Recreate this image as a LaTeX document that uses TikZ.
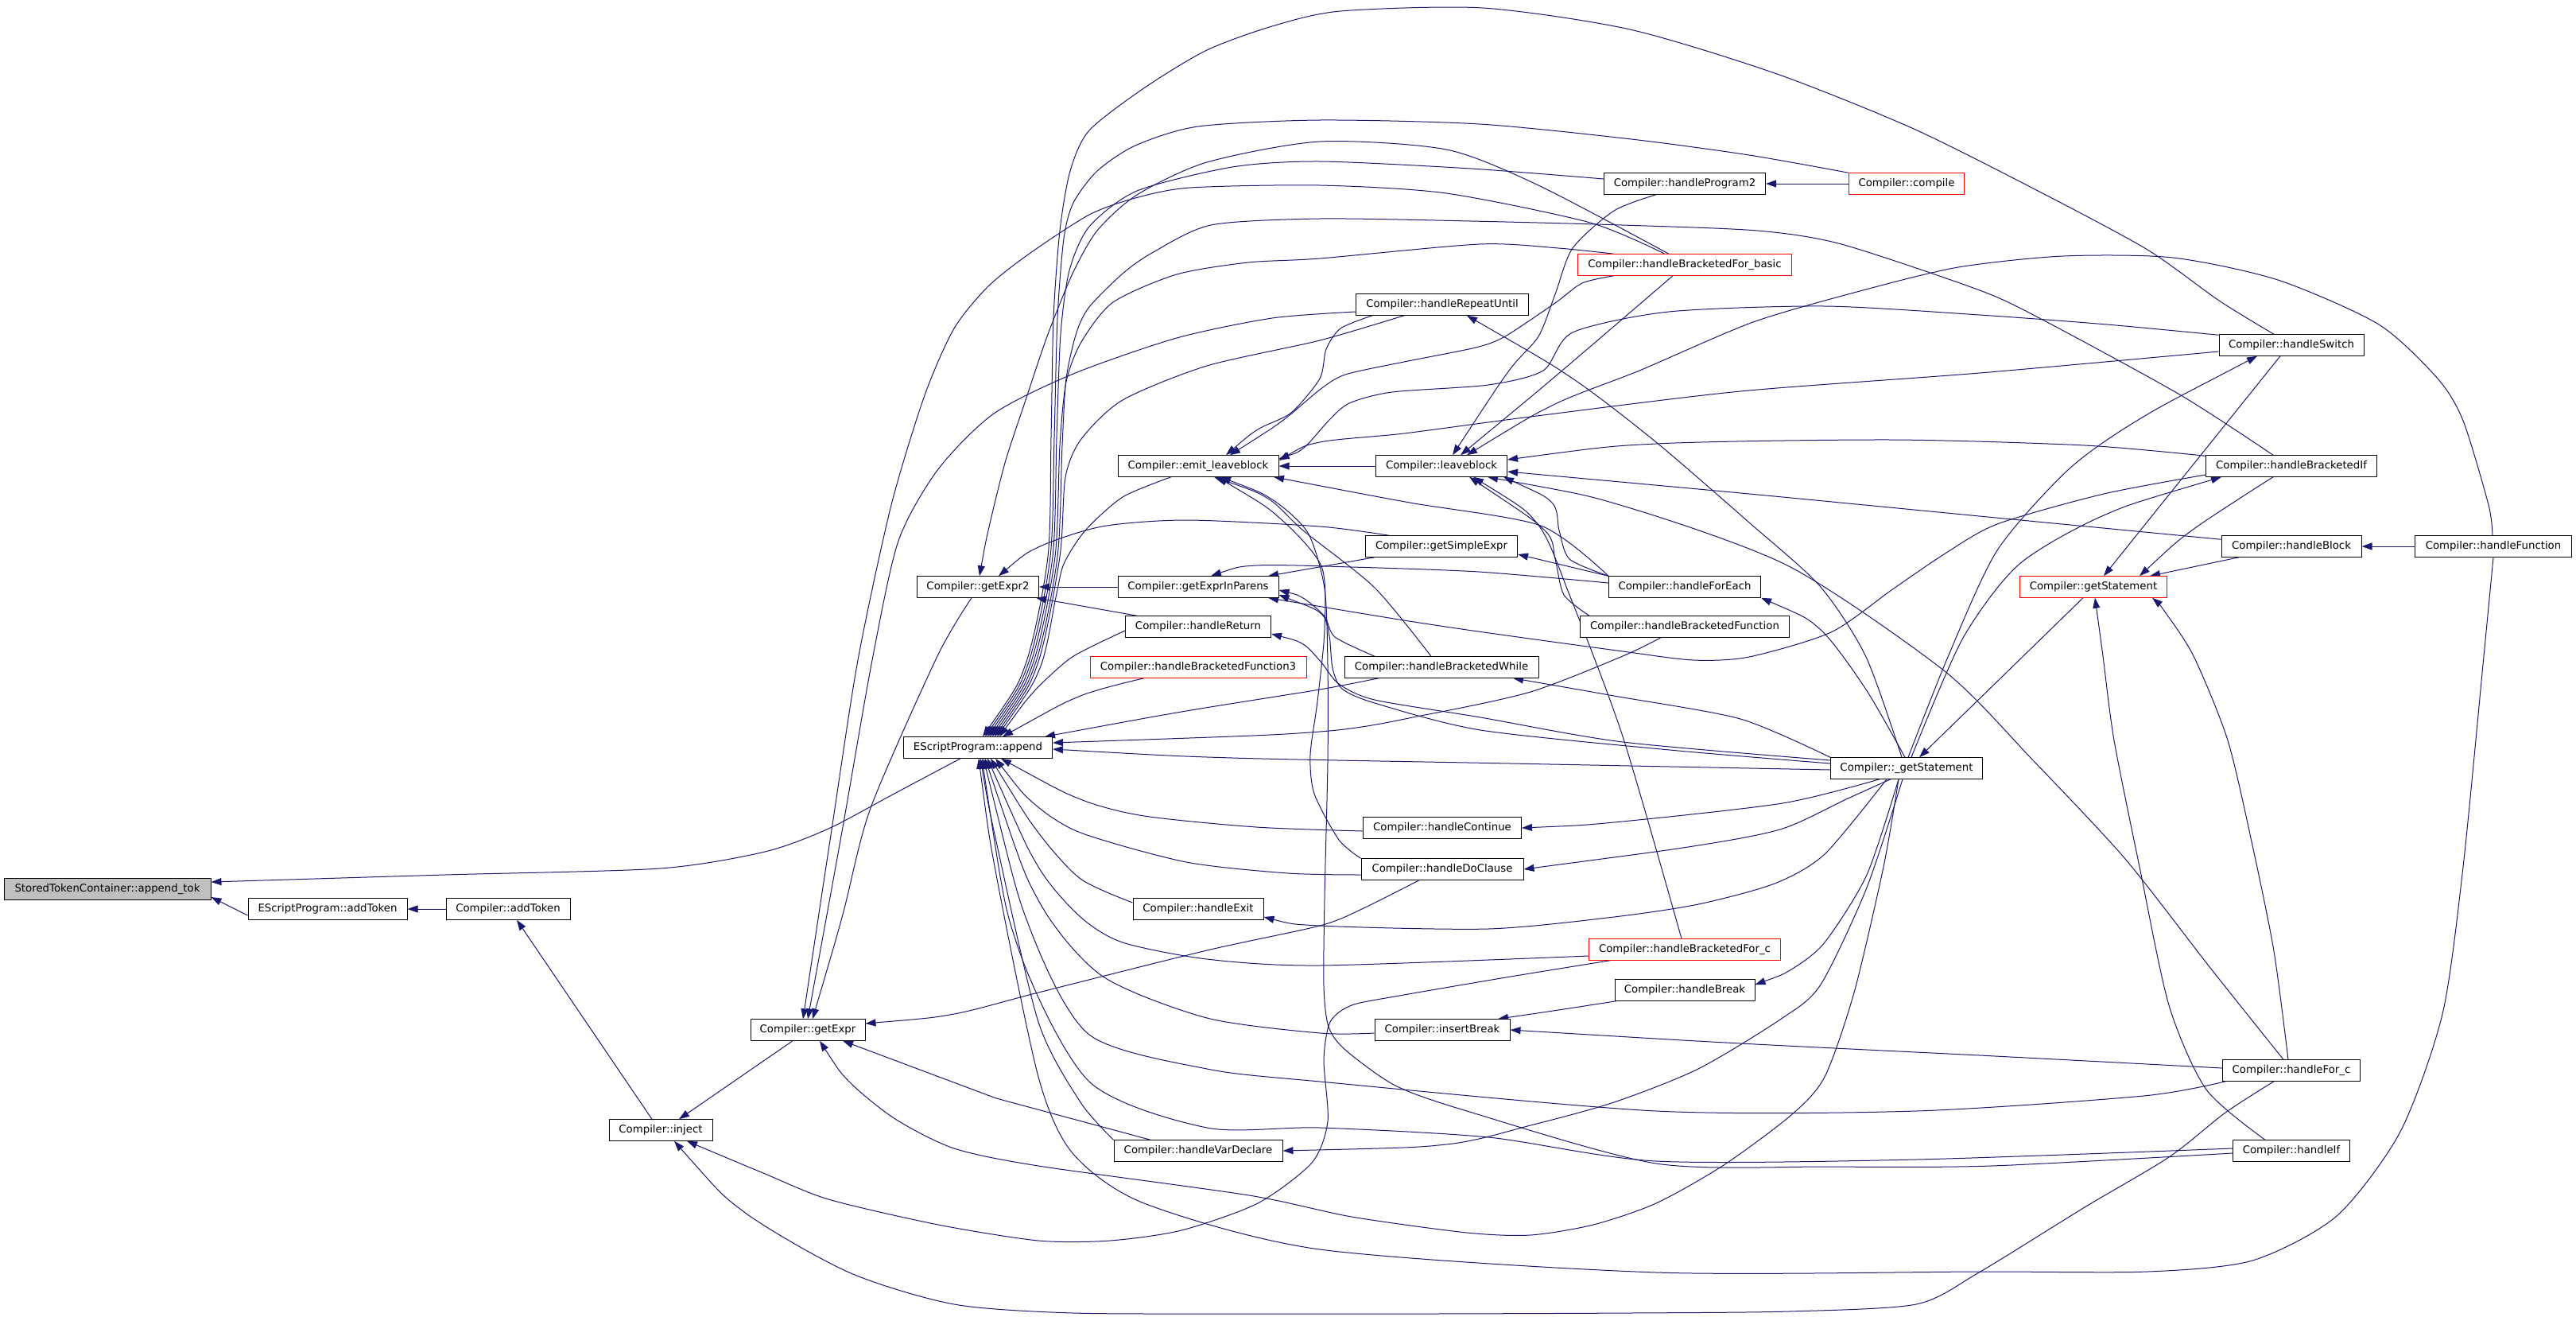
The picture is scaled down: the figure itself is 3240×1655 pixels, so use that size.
\documentclass[tikz,border=0pt]{standalone}
\usepackage{fontspec}
\setmainfont{DejaVu Sans}
\usetikzlibrary{arrows.meta,backgrounds}
\definecolor{edgec}{HTML}{191970}
\definecolor{tokgray}{HTML}{BFBFBF}
\tikzset{
  fn/.style={draw=black, line width=1pt, fill=white, minimum height=26.5pt, inner sep=0pt, font=\fontsize{13.3}{15}\selectfont},
  fnred/.style={fn, draw=red},
  e/.style={draw=edgec, line width=1pt, <-, >={Triangle[length=13pt,width=9pt]}},
}
\newcommand\conn[1]{\draw[e] plot[smooth,tension=0.45] coordinates {#1};}
\begin{document}
\begin{tikzpicture}[x=1pt,y=-1pt]
\useasboundingbox (0,0) rectangle (3240,1655);
\node[fn,fill=tokgray,minimum width=260pt] (tok) at (135,1118) {StoredTokenContainer::append\_tok};
\node[fn,minimum width=200pt] (esadd) at (412,1143) {EScriptProgram::addToken};
\node[fn,minimum width=156pt] (cadd) at (639,1143) {Compiler::addToken};
\node[fn,minimum width=130pt] (inject) at (831,1421) {Compiler::inject};
\node[fn,minimum width=144pt] (getexpr) at (1016,1295) {Compiler::getExpr};
\node[fn,minimum width=187pt] (esappend) at (1230,940) {EScriptProgram::append};
\node[fn,minimum width=153pt] (getexpr2) at (1230,738) {Compiler::getExpr2};
\node[fn,minimum width=202pt] (emit) at (1507,586) {Compiler::emit\_leaveblock};
\node[fn,minimum width=202pt] (gip) at (1507,738) {Compiler::getExprInParens};
\node[fn,minimum width=183pt] (hret) at (1507,788) {Compiler::handleReturn};
\node[fnred,minimum width=272pt] (hbf3) at (1507,839) {Compiler::handleBracketedFunction3};
\node[fn,minimum width=164pt] (hexit) at (1507,1143) {Compiler::handleExit};
\node[fn,minimum width=212pt] (hvar) at (1507,1447) {Compiler::handleVarDeclare};
\node[fn,minimum width=217pt] (hrep) at (1814,383) {Compiler::handleRepeatUntil};
\node[fn,minimum width=165pt] (leave) at (1813,586) {Compiler::leaveblock};
\node[fn,minimum width=191pt] (gse) at (1813,687) {Compiler::getSimpleExpr};
\node[fn,minimum width=244pt] (hbw) at (1813,839) {Compiler::handleBracketedWhile};
\node[fn,minimum width=199pt] (hcont) at (1814,1041) {Compiler::handleContinue};
\node[fn,minimum width=204pt] (hdo) at (1814,1093) {Compiler::handleDoClause};
\node[fn,minimum width=170pt] (ibreak) at (1814,1295) {Compiler::insertBreak};
\node[fn,minimum width=203pt] (hprog2) at (2119,231) {Compiler::handleProgram2};
\node[fnred,minimum width=145pt] (compile) at (2398,231) {Compiler::compile};
\node[fnred,minimum width=269pt] (hbfb) at (2119,333) {Compiler::handleBracketedFor\_basic};
\node[fn,minimum width=191pt] (hfe) at (2119,738) {Compiler::handleForEach};
\node[fn,minimum width=263pt] (hbfn) at (2119,788) {Compiler::handleBracketedFunction};
\node[fnred,minimum width=241pt] (hbfc) at (2119,1194) {Compiler::handleBracketedFor\_c};
\node[fn,minimum width=176pt] (hbreak) at (2119,1245) {Compiler::handleBreak};
\node[fn,minimum width=191pt] (gstmtu) at (2398,966) {Compiler::\_getStatement};
\node[fn,minimum width=182pt] (hsw) at (2882,434) {Compiler::handleSwitch};
\node[fn,minimum width=215pt] (hbif) at (2882,586) {Compiler::handleBracketedIf};
\node[fnred,minimum width=185pt] (gstmt) at (2633,738) {Compiler::getStatement};
\node[fn,minimum width=176pt] (hblock) at (2882,687) {Compiler::handleBlock};
\node[fn,minimum width=197pt] (hfunc) at (3136,687) {Compiler::handleFunction};
\node[fn,minimum width=173pt] (hforc) at (2882,1346) {Compiler::handleFor\_c};
\node[fn,minimum width=147pt] (hif) at (2882,1447) {Compiler::handleIf};
\begin{scope}[on background layer]
% left chain
\conn{([yshift=9]tok.east) (560,1100) (830,1092) (962,1071) (1042,1042) (1121,1000) ([xshift=-22]esappend.south)}
\draw[e] ([yshift=-10]tok.east) -- ([yshift=-8]esadd.west);
\draw[e] (esadd.east) -- (cadd.west);
\draw[e] ([xshift=11]cadd.south) -- ([xshift=-11]inject.north);
\draw[e] ([xshift=23]inject.north) -- ([xshift=-19]getexpr.south);
\conn{([xshift=33]inject.south) (960,1475) (1042,1508) (1180,1540) (1306,1560) (1396,1560) (1486,1547) (1582,1513) (1650,1462) (1670,1410) (1665,1333) (1673,1285) (1700,1264) (1760,1252) (1900,1228) ([xshift=-94]hbfc.south)}
\conn{([xshift=17]inject.south) (936,1524) (1068,1600) (1200,1640) (1350,1651) (1575,1652) (1800,1652) (2050,1651) (2250,1649) (2410,1640) (2489,1600) (2622,1518) (2728,1455) (2799,1399) ([xshift=-22]hforc.south)}
% getExpr
\conn{([xshift=6]getexpr.north) (1060,1150) (1095,1016) (1179,825) ([xshift=-8]getexpr2.south)}
\conn{([xshift=-6]getexpr.north) (1045,1050) (1079,830) (1121,635) (1163,497) (1200,413) (1243,360) (1296,318) (1370,270) (1428,249) (1497,236) (1660,233) (1819,243) (2000,280) ([xshift=-25]hbfb.north)}
\conn{(getexpr.north) (1060,1040) (1097,830) (1130,680) (1180,590) (1250,520) (1350,470) (1480,425) (1600,400) ([yshift=-9]hrep.west)}
\conn{([yshift=8]getexpr.east) (1200,1275) (1306,1248) (1518,1195) (1660,1164) (1713,1143) ([xshift=-29]hdo.south)}
\draw[e] ([xshift=44]getexpr.south) -- (1253,1381) -- ([xshift=-60]hvar.north);
\conn{([xshift=15]getexpr.south) (1068,1360) (1126,1407) (1200,1444) (1306,1466) (1571,1503) (1700,1530) (1845,1550) (1925,1553) (2004,1540) (2083,1513) (2168,1465) (2253,1402) (2295,1354) (2332,1248) (2369,1090) ([xshift=-10]gstmtu.south)}
% getExpr2
\conn{([xshift=26]getexpr2.north) (1306,688) (1386,662) (1492,654) (1660,662) ([xshift=-66]gse.north)}
\conn{([xshift=2]getexpr2.north) (1243,667) (1264,582) (1290,503) (1317,423) (1349,344) (1380,290) (1430,245) (1518,204) (1660,178) (1819,188) (1935,233) ([xshift=-20]hbfb.north)}
\draw[e] (getexpr2.east) -- (gip.west);
\draw[e] ([xshift=73]getexpr2.south) -- ([xshift=-77]hret.north);
% EScriptProgram::append
\conn{([xshift=6]esappend.north) (1290,835) (1318,700) (1322,550) (1325,400) (1333,290) (1346,215) (1370,164) (1440,110) (1518,63) (1600,33) (1686,14) (1865,10) (2050,37) (2235,93) (2407,162) (2569,243) (2701,314) (2791,378) ([xshift=-22]hsw.north)}
\conn{([xshift=9]esappend.north) (1293,835) (1321,700) (1326,550) (1330,400) (1338,300) (1350,255) (1380,215) (1428,183) (1507,159) (1660,151) (1861,156) (2052,175) (2200,195) (compile.north west)}
\conn{([xshift=12]esappend.north) (1296,835) (1324,700) (1329,550) (1334,420) (1345,340) (1370,285) (1430,240) (1550,210) (1660,203) (1850,212) ([yshift=6]hprog2.west)}
\conn{([xshift=15]esappend.north) (1299,835) (1327,700) (1333,560) (1341,480) (1360,430) (1400,380) (1480,345) (1570,330) (1660,325) (1861,307) (1960,312) ([xshift=-89]hbfb.north)}
\conn{([xshift=18]esappend.north) (1302,835) (1330,700) (1336,560) (1341,476) (1354,418) (1370,386) (1412,344) (1449,318) (1523,283) (1660,275) (1850,278) (2040,283) (2210,290) (2316,307) (2490,365) (2569,402) (2743,497) ([xshift=-23]hbif.north)}
\conn{([xshift=21]esappend.north) (1305,835) (1333,700) (1340,600) (1360,552) (1412,503) (1518,460) (1660,428) ([xshift=-48]hrep.south)}
\conn{([xshift=24]esappend.north) (1308,840) (1328,751) (1338,709) (1365,667) (1412,625) ([xshift=-34]emit.south)}
\conn{([xshift=27]esappend.north) (1300,870) (1343,830) (1375,812) ([yshift=-5]hret.west)}
\conn{([xshift=31]esappend.north) (1359,875) ([xshift=-68]hbf3.south)}
\conn{([xshift=-10]esappend.north east) (1492,894) (1660,867) ([xshift=-79]hbw.south)}
\conn{([yshift=6]esappend.east) (1660,920) (1792,899) (1925,870) (2041,825) ([xshift=-30]hbfn.south)}
\conn{([yshift=-2]esappend.east) (1550,953) (1900,960) ([yshift=-2]gstmtu.west)}
\conn{([xshift=29]esappend.south) (1359,1005) (1439,1026) (1580,1040) ([yshift=-4]hcont.west)}
\conn{([xshift=22]esappend.south) (1300,1010) (1359,1047) (1492,1084) (1620,1098) ([yshift=-7]hdo.west)}
\conn{([xshift=16]esappend.south) (1306,1047) (1359,1105) ([yshift=8]hexit.west)}
\conn{([xshift=12]esappend.south) (1306,1090) (1359,1153) (1412,1185) (1518,1206) (1660,1214) ([yshift=-8]hbfc.west)}
\conn{([xshift=9]esappend.south) (1306,1132) (1386,1227) (1518,1280) (1660,1299) ([yshift=-4]ibreak.west)}
\conn{([xshift=7]esappend.south) (1296,1169) (1370,1301) (1518,1344) (1660,1360) (2083,1397) (2410,1397) (2696,1378) ([xshift=-83]hforc.south)}
\conn{([xshift=5]esappend.south) (1280,1190) (1370,1360) (1518,1418) (1660,1418) (1872,1430) (2083,1460) (2410,1458) ([yshift=3]hif.west)}
\conn{([xshift=3]esappend.south) (1253,1058) (1306,1285) (1359,1386) (hvar.north west)}
\conn{([xshift=1]esappend.south) (1253,1100) (1306,1354) (1349,1450) (1439,1513) (1660,1571) (2083,1600) (2490,1599) (2701,1599) (2833,1585) (2939,1529) (3019,1423) (3072,1275) (3098,1090) (3124,825) (hfunc.south)}
% emit_leaveblock
\draw[e] (emit.east) -- (leave.west);
\conn{([xshift=35]emit.north) (1582,540) (1624,519) (1660,476) (1668,439) (1686,413) ([xshift=-88]hrep.south)}
\conn{([xshift=40]emit.north) (1613,529) (1660,490) (1692,471) (1766,455) (1856,437) (1893,423) (1956,381) (1990,356) ([xshift=-89]hbfb.south)}
\conn{([yshift=9]emit.east) (1640,563) (1671,529) (1697,507) (1751,493) (1872,484) (1941,466) (1978,418) (2099,392) (2295,385) (2490,396) (2650,408) ([yshift=-1]hsw.north west)}
\conn{([yshift=7]emit.east) (1660,556) (1766,545) (1925,524) (2189,492) (2490,469) ([yshift=-8]hsw.west)}
\conn{([xshift=95]emit.south) (1773,632) (1938,661) (hfe.north west)}
\conn{([xshift=20]emit.south) (1595,627) (1639,667) (1729,739) ([xshift=-13]hbw.north)}
\conn{([xshift=24]emit.south) (1608,650) (1662,712) (1666,792) (1657,882) (1648,949) (1653,998) (1684,1056) (hdo.north west)}
\conn{([xshift=28]emit.south) (1600,628) (1645,670) (1666,740) (1670,837) (1670,958) (1666,1130) (1665,1240) (1671,1291) (1692,1320) (1755,1365) (1845,1397) (2083,1463) (2300,1467) (2505,1466) ([yshift=-3]hif.west)}
% leaveblock
\conn{([xshift=14]leave.north) (1898,466) (1935,423) (1956,370) (1978,312) (2030,265) ([xshift=-36]hprog2.south)}
\conn{([xshift=24]leave.north) (1960,470) ([xshift=-15]hbfb.south)}
\conn{([xshift=32]leave.north) (1956,508) (2062,466) (2205,405) (2343,365) (2463,336) (2595,322) (2733,324) (2865,352) (2992,408) (3066,476) (3098,529) (3130,635) ([xshift=-1]hfunc.north)}
\conn{([yshift=8]leave.east) (2083,558) (2379,553) (2622,560) ([yshift=-1]hbif.north west)}
\conn{([yshift=-7]leave.east) (2200,621) (2500,650) ([yshift=-5]hblock.north west)}
\conn{([xshift=58]leave.south) (2041,636) (2250,712) (2446,844) (2557,956) (2673,1080) (2780,1217) ([xshift=-10]hforc.north)}
\conn{([xshift=40]leave.south) (1934,659) (1974,748) (2041,926) ([xshift=-4]hbfc.north)}
\conn{([xshift=78]leave.south) (1952,632) (1961,667) (1974,703) (hfe.north west)}
\conn{([xshift=35]leave.south) (1943,667) (1956,703) (1967,748) ([xshift=-120]hbfn.north)}
% getSimpleExpr, getExprInParens
\draw[e] ([yshift=-10]gse.east) -- (hfe.north west);
\draw[e] ([xshift=88]gip.north) -- ([xshift=-84]gse.south);
\conn{([xshift=16]gip.north) (1580,711) (1700,713) (1860,719) ([yshift=5]hfe.west)}
\conn{([yshift=-4]gip.east) (1639,752) (1666,775) (1679,801) ([xshift=-84]hbw.north)}
\conn{([yshift=-10]gip.east) (1662,772) (1672,800) (1676,840) (1688,866) (1729,884) (1862,918) (2100,943) ([yshift=6]gstmtu.west)}
\conn{([xshift=88]gip.south) (1818,788) (2041,819) (2130,830) (2200,826) (2303,795) (2379,742) (2445,697) (2512,659) (2646,621) ([yshift=-11]hbif.west)}
% _getStatement as caller
\conn{([yshift=-9]hret.east) (1639,810) (1662,833) (1684,860) (1729,880) (1862,902) (2041,933) ([yshift=10]gstmtu.west)}
\conn{([xshift=90]hbw.south) (2030,875) (2189,904) (gstmtu.north west)}
\conn{(hcont.east) (2030,1034) (2242,1010) ([xshift=-34]gstmtu.south)}
\conn{(hdo.east) (2136,1063) (2242,1042) (2322,1005) ([xshift=-20]gstmtu.south)}
\conn{([yshift=-10]hexit.east) (1660,1164) (1872,1168) (2030,1153) (2136,1137) (2232,1111) (2295,1074) ([xshift=-25]gstmtu.south)}
\conn{([yshift=7]hbreak.east) (2253,1219) (2295,1185) (2348,1100) ([xshift=-10]gstmtu.south)}
\conn{(hvar.east) (1819,1439) (1925,1415) (2030,1386) (2136,1344) (2242,1280) (2290,1238) (2348,1116) ([xshift=-5]gstmtu.south)}
\conn{([xshift=31]hrep.south) (1978,476) (2083,556) (2200,657) (2289,737) (2347,826) ([xshift=-6]gstmtu.north)}
\conn{(hfe.south east) (2289,791) (2347,867) ([xshift=-2]gstmtu.north)}
\conn{([xshift=-43]hsw.south) (2691,527) (2602,590) (2512,692) (2450,826) ([xshift=2]gstmtu.north)}
\conn{([xshift=-88]hbif.south) (2646,648) (2539,710) (2468,804) ([xshift=6]gstmtu.north)}
\draw[e] ([xshift=16]gstmtu.north) -- ([xshift=-13]gstmt.south);
% getStatement
\draw[e] ([xshift=13]gstmt.north) -- ([xshift=-14]hsw.south);
\conn{([xshift=58]gstmt.north) (2758,666) ([xshift=-23]hbif.south)}
\draw[e] ([xshift=71]gstmt.north) -- ([xshift=-66]hblock.south);
\conn{([xshift=2]gstmt.south) (2645,825) (2659,931) (2691,1090) (2728,1264) (2775,1370) ([xshift=-33]hif.north)}
\conn{([xshift=74]gstmt.south) (2722,768) (2759,825) (2802,931) (2833,1063) (2860,1196) ([xshift=-4]hforc.north)}
% others
\draw[e] (hprog2.east) -- (compile.west);
\draw[e] (hblock.east) -- (hfunc.west);
\conn{([xshift=70]ibreak.north) (1960,1270) ([xshift=-86]hbreak.south)}
\conn{(ibreak.east) (2189,1312) (2490,1327) ([yshift=3]hforc.west)}
\end{scope}
\end{tikzpicture}
\end{document}
